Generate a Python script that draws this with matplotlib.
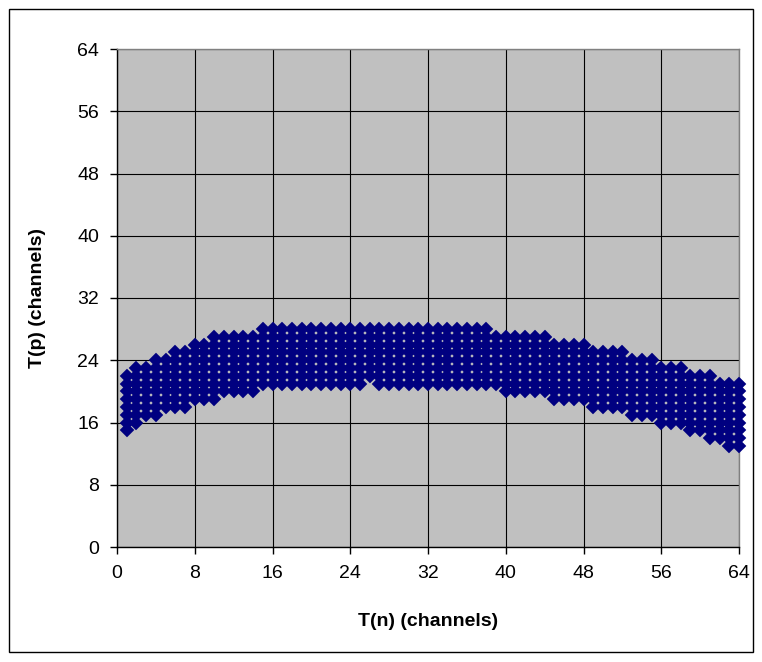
import matplotlib
matplotlib.use("Agg")
import matplotlib.pyplot as plt
from matplotlib.patches import Rectangle

plt.rcParams['font.family'] = ['Liberation Sans', 'DejaVu Sans']

# %%
# accepted channel window: for each T(n) channel the lowest and highest T(p) channel
tn = list(range(1, 65))
tp_min = [15, 16, 17, 17, 18, 18, 18, 19, 19, 19, 20, 20, 20, 20,
          21, 21, 21, 21, 21, 21, 21, 21, 21, 21, 21, 21, 21, 21, 21, 21,
          21, 21, 21, 21, 21, 21, 21, 21, 21,
          20, 20, 20, 20, 20, 19, 19, 19, 19, 18, 18, 18, 18,
          17, 17, 17, 16, 16, 16, 15, 15, 14, 14, 13, 13]
tp_max = [22, 23, 23, 24, 24, 25, 25, 26, 26, 27, 27, 27, 27, 27,
          28, 28, 28, 28, 28, 28, 28, 28, 28, 28, 28, 28, 28, 28, 28, 28,
          28, 28, 28, 28, 28, 28, 28, 28,
          27, 27, 27, 27, 27, 27, 26, 26, 26, 26, 25, 25, 25, 25,
          24, 24, 24, 23, 23, 23, 22, 22, 22, 21, 21, 21]
missing = [(26, 21)]  # hole in the bottom row

ticks = list(range(0, 65, 8))

# %%
xs, ys = [], []
for n, lo, hi in zip(tn, tp_min, tp_max):
    for p in range(lo, hi + 1):
        if (n, p) in missing:
            continue
        xs.append(n)
        ys.append(p)

fig = plt.figure(figsize=(7.62, 6.62), dpi=100)
fig.patches.append(Rectangle((9 / 762, 1 - 652 / 662), 744 / 762, 643 / 662,
                             transform=fig.transFigure, fill=False,
                             edgecolor='black', linewidth=1.0))

ax = fig.add_axes([117 / 762, 1 - 547 / 662, 622 / 762, 498 / 662])
ax.set_facecolor('#C0C0C0')
ax.plot(xs, ys, linestyle='none', marker='D', markersize=6.9,
        markerfacecolor='#000080', markeredgecolor='#000080',
        markeredgewidth=0.3, clip_on=False, zorder=3)

ax.set_xlim(0, 64)
ax.set_ylim(0, 64)
ax.set_xticks(ticks)
ax.set_yticks(ticks)
ax.grid(True, color='black', linewidth=0.8)
ax.set_axisbelow(True)

for side in ['top', 'right']:
    ax.spines[side].set_color('#808080')
    ax.spines[side].set_linewidth(1.0)
for side in ['left', 'bottom']:
    ax.spines[side].set_color('black')
    ax.spines[side].set_linewidth(1.0)

ax.tick_params(direction='out', length=5, width=1, labelsize=14, pad=8)

ax.set_xlabel('T(n) (channels)', fontsize=14, fontweight='bold')
ax.set_ylabel('T(p) (channels)', fontsize=14, fontweight='bold')
ax.xaxis.label.set_va('center')
ax.yaxis.label.set_va('center')
ax.xaxis.set_label_coords(0.5, (547 - 621) / 498)
ax.yaxis.set_label_coords((38 - 117) / 622, 0.5)

fig.savefig('out.png', dpi=100)
